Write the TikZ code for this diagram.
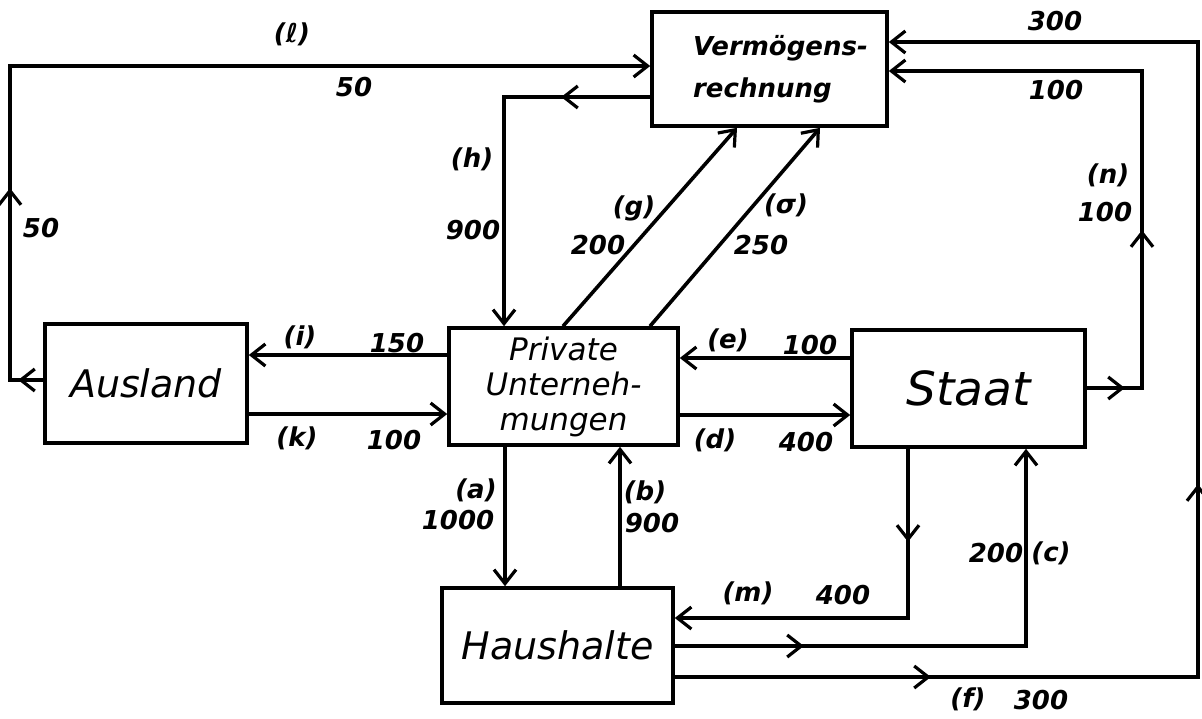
\documentclass[tikz,border=0pt]{standalone}
\usepackage{fontspec}
\setmainfont{DejaVu Sans}
\usetikzlibrary{arrows.meta,decorations.markings}
\tikzset{
  barb/.tip={Straight Barb[length=14pt,width=22pt,line width=3.2pt]},
  flow/.style={line width=3.6pt},
  box/.style={draw,line width=3.6pt,inner sep=0pt},
  lbl/.style={font=\bfseries\itshape\fontsize{26}{26}\selectfont,inner sep=0pt},
  mtip/.style={postaction={decorate,decoration={markings,mark=at position #1 with {\arrow{barb}}}}},
}
\begin{document}
\begin{tikzpicture}[x=1pt,y=-1pt]
\useasboundingbox[fill=white] (0,0) rectangle (1202,718);

% boxes
\node[box,minimum width=235pt,minimum height=114pt,align=left,
      font=\bfseries\itshape\fontsize{26}{42}\selectfont] (verm) at (769.5,69) {\hspace*{22pt}Vermögens-\\\hspace*{22pt}rechnung};
\node[box,minimum width=229pt,minimum height=117pt,align=center,
      font=\itshape\fontsize{31}{35}\selectfont] (priv) at (563.5,386.5) {Private\\Unterneh-\\mungen};
\node[box,minimum width=202pt,minimum height=119pt,
      font=\itshape\fontsize{38}{40}\selectfont] (aus) at (146,383.5) {Ausland};
\node[box,minimum width=233pt,minimum height=117pt,
      font=\itshape\fontsize{47}{50}\selectfont] (staat) at (968.5,388.5) {Staat};
\node[box,minimum width=231pt,minimum height=115pt,
      font=\itshape\fontsize{38}{40}\selectfont] (haus) at (557.5,645.5) {Haushalte};

% connectors
% (l)
\draw[flow,mtip=25pt,mtip=225pt,-barb] (aus.west |- 0,380) -- (10,380) -- (10,66) -- (verm.west |- 0,66);
% (h)
\draw[flow,mtip=89pt,-barb] (verm.west |- 0,97) -- (504,97) -- (priv.north -| 504,0);
% (g)
\draw[flow,-barb] (priv.north -| 563,0) -- (verm.south -| 737,0);
% (o)
\draw[flow,-barb] (priv.north -| 650,0) -- (verm.south -| 820,0);
% (i)
\draw[flow,-barb] (priv.west |- 0,355) -- (aus.east |- 0,355);
% (k)
\draw[flow,-barb] (aus.east |- 0,414) -- (priv.west |- 0,414);
% (e)
\draw[flow,-barb] (staat.west |- 0,358) -- (priv.east |- 0,358);
% (d)
\draw[flow,-barb] (priv.east |- 0,415) -- (staat.west |- 0,415);
% (a)
\draw[flow,-barb] (priv.south -| 505,0) -- (haus.north -| 505,0);
% (b)
\draw[flow,-barb] (haus.north -| 620,0) -- (priv.south -| 620,0);
% (m)
\draw[flow,mtip=93pt,-barb] (staat.south -| 908,0) -- (908,618) -- (haus.east |- 0,618);
% (c)
\draw[flow,mtip=129pt,-barb] (haus.east |- 0,646) -- (1026,646) -- (staat.south -| 1026,0);
% (f)
\draw[flow,mtip=256pt,mtip=716pt,-barb] (haus.east |- 0,677) -- (1198,677) -- (1198,42) -- (verm.east |- 0,42);
% (n)
\draw[flow,mtip=38pt,mtip=213pt,-barb] (staat.east |- 0,388) -- (1142,388) -- (1142,71) -- (verm.east |- 0,71);

% labels
\node[lbl] (t1) at (292,34) {(ℓ)};
\node[lbl] (t2) at (354,87) {50};
\node[lbl] (t3) at (41,228) {50};
\node[lbl] (t4) at (472,159) {(h)};
\node[lbl] (t5) at (473,230) {900};
\node[lbl] (t6) at (634,208) {(g)};
\node[lbl] (t7) at (598,245) {200};
\node[lbl] (t8) at (786,205) {(σ)};
\node[lbl] (t9) at (761,245) {250};
\node[lbl] (t10) at (300,337) {(i)};
\node[lbl] (t11) at (397,343) {150};
\node[lbl] (t12) at (297,438) {(k)};
\node[lbl] (t13) at (394,440) {100};
\node[lbl] (t14) at (728,340) {(e)};
\node[lbl] (t15) at (810,345) {100};
\node[lbl] (t16) at (715,440) {(d)};
\node[lbl] (t17) at (806,442) {400};
\node[lbl] (t18) at (476,490) {(a)};
\node[lbl] (t19) at (458,520) {1000};
\node[lbl] (t20) at (645,492) {(b)};
\node[lbl] (t21) at (652,523) {900};
\node[lbl] (t22) at (748,593) {(m)};
\node[lbl] (t23) at (843,595) {400};
\node[lbl] (t24) at (996,553) {200};
\node[lbl] (t25) at (1051,553) {(c)};
\node[lbl] (t26) at (968,699) {(f)};
\node[lbl] (t27) at (1041,700) {300};
\node[lbl] (t28) at (1108,175) {(n)};
\node[lbl] (t29) at (1105,212) {100};
\node[lbl] (t30) at (1055,21) {300};
\node[lbl] (t31) at (1056,90) {100};
\end{tikzpicture}
\end{document}
